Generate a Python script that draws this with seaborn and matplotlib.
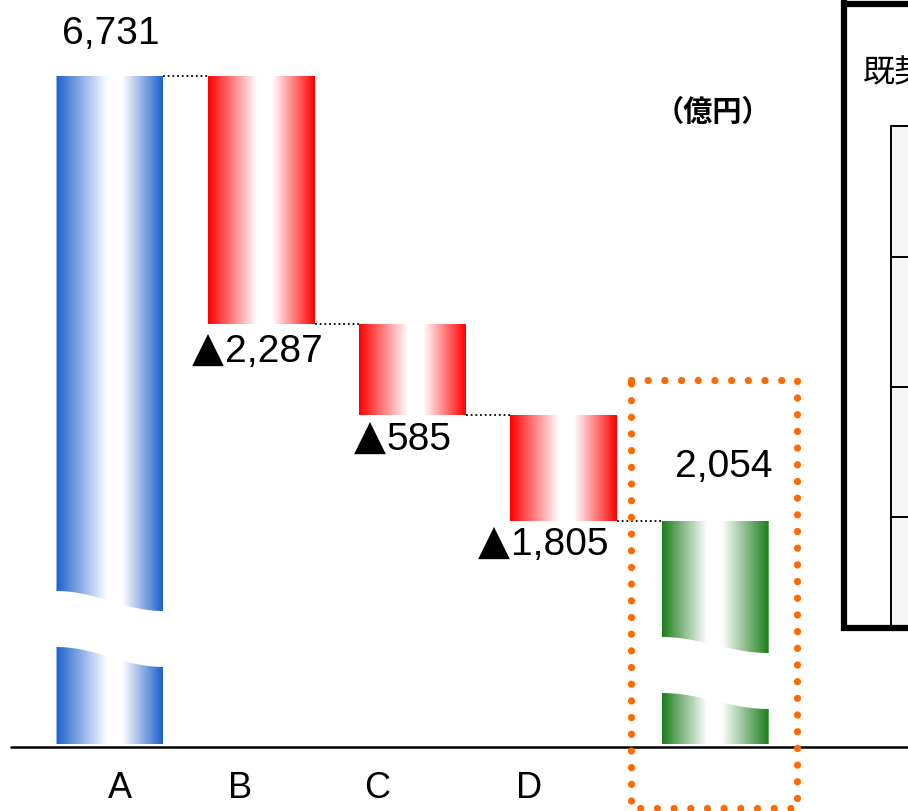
import numpy as np
import pandas as pd
import seaborn as sns
import matplotlib
matplotlib.use("Agg")
import matplotlib.pyplot as plt
from matplotlib.patches import Polygon, Rectangle
from matplotlib.colors import LinearSegmentedColormap

# waterfall data (億円)
categories = ["A", "B", "C", "D", ""]
values = [6731, -2287, -585, -1805, 2054]
value_labels = ["6,731", "2,287", "585", "1,805", "2,054"]
# drawn levels of the schematic (not to scale, axis is broken)
level_top = [668, 668, 420, 329, 223]
level_bottom = [0, 420, 329, 223, 0]
# broken bars: (upper piece bottom left/right, lower piece top left/right)
breaks = {0: (153, 133, 97, 77), 4: (107, 91, 51, 35)}

df = pd.DataFrame({"cat": categories, "value": values, "label": value_labels,
                   "top": level_top, "bottom": level_bottom})

sns.set_theme(style="white", rc={"text.color": "black"})
plt.rcParams["font.family"] = ["Liberation Sans", "Noto Sans CJK JP", "DejaVu Sans"]

W, H = 908, 812
fig = plt.figure(figsize=(W / 100, H / 100), dpi=100)
ax = fig.add_axes([0, 0, 1, 1])
ax.set_axis_off()

x0px, step = 110, 151.3
ax.set_xlim(-x0px / step, (W - x0px) / step)
ax.set_ylim(-67, 745)

blue, red, green = "#1C60CC", "#FF0000", "#1B7D1B"
cmaps = {
    "blue": LinearSegmentedColormap.from_list("b", [(0, blue), (0.48, "white"), (0.62, "white"), (1, blue)]),
    "red": LinearSegmentedColormap.from_list("r", [(0, red), (0.46, "white"), (0.6, "white"), (1, red)]),
    "green": LinearSegmentedColormap.from_list("g", [(0, green), (0.42, "white"), (0.56, "white"), (1, green)]),
}
bar_cmap = ["blue", "red", "red", "red", "green"]
bw = 107 / step


def wave(xa, xb, yl, yr, n=60):
    t = np.linspace(0, 1, n)
    return xa + t * (xb - xa), yl + (yr - yl) * (1 - np.cos(np.pi * t)) / 2


def grad_piece(verts, xa, xb, cmap):
    poly = Polygon(verts, closed=True, facecolor="none", edgecolor="none")
    ax.add_patch(poly)
    ys = [v[1] for v in verts]
    im = ax.imshow(np.linspace(0, 1, 256).reshape(1, -1), cmap=cmap,
                   extent=[xa, xb, min(ys), max(ys)], aspect="auto",
                   origin="lower", interpolation="bicubic")
    im.set_clip_path(poly)


for i, row in df.iterrows():
    xa, xb = i - bw / 2, i + bw / 2
    cm = cmaps[bar_cmap[i]]
    if i in breaks:
        ub_l, ub_r, lt_l, lt_r = breaks[i]
        wx, wy = wave(xa, xb, ub_l, ub_r)
        upper = [(xa, row["top"]), (xb, row["top"])] + list(zip(wx[::-1], wy[::-1]))
        grad_piece(upper, xa, xb, cm)
        wx, wy = wave(xa, xb, lt_l, lt_r)
        lower = list(zip(wx, wy)) + [(xb, row["bottom"]), (xa, row["bottom"])]
        grad_piece(lower, xa, xb, cm)
    else:
        verts = [(xa, row["bottom"]), (xb, row["bottom"]), (xb, row["top"]), (xa, row["top"])]
        grad_piece(verts, xa, xb, cm)

# connectors
for i in range(len(df) - 1):
    lvl = df["top"][0] if i == 0 else df["bottom"][i]
    ax.plot([i + bw / 2, i + 1 - bw / 2], [lvl, lvl], color="black", lw=1.3,
            linestyle=(0, (1, 1.6)))

# value labels
lab_dx = [0.003, -0.24, -0.17, -0.35, 0.055]
lab_dy = [33, -37, -34, -33, 45]
for i, row in df.iterrows():
    if row["value"] < 0:
        y = row["bottom"] + lab_dy[i]
        ax.text(i + lab_dx[i], y, row["label"], ha="left", va="baseline", fontsize=28)
        ax.text(i + lab_dx[i] - 0.005, y, "▲", ha="right", va="baseline", fontsize=30,
                family=["DejaVu Sans"])
    else:
        y = row["top"] + lab_dy[i]
        ax.text(i + lab_dx[i], y, row["label"], ha="center", va="baseline", fontsize=28)

# category labels
cat_dx = [0.066, -0.14, -0.235, -0.23, 0]
for i, c in enumerate(categories):
    if c:
        ax.text(i + cat_dx[i], -44, c, ha="center", va="center", fontsize=26)

# baseline
ax.plot([(10 - x0px) / step, (W - x0px) / step], [-3, -3], color="black", lw=1.8,
        solid_capstyle="butt")

# orange dotted frame around the last bar
rx0, rx1, ry0, ry1 = 4 - 0.557, 4 + 0.54, -64, 364
ax.plot([rx0, rx1, rx1, rx0, rx0], [ry1, ry1, ry0, ry0, ry1], color="#FF6A00", lw=5.2,
        linestyle=(0, (0.01, 2.3)), dash_capstyle="round", clip_on=False)

# unit label
ax.text((713 - x0px) / step, 745 - 112, "（億円）", ha="center", va="center",
        fontsize=21, fontweight="bold", family=["Noto Sans CJK JP"])


# partial table on the right edge (pixel-based helpers)
def fx(px):
    return px / W


def fy(py):
    return 1 - py / H


T = ax.transAxes
ax.add_patch(Rectangle((fx(891), fy(630)), fx(908) - fx(891), fy(127) - fy(630),
                       transform=T, facecolor="#F6F6F6", edgecolor="none", clip_on=False))
for py in [127, 258, 388, 518]:
    ax.plot([fx(891), 1], [fy(py), fy(py)], transform=T, color="black", lw=1.4, clip_on=False)
ax.plot([fx(891), fx(891)], [fy(127), fy(630)], transform=T, color="black", lw=1.4, clip_on=False)
ax.plot([fx(844), fx(844)], [fy(0), fy(632)], transform=T, color="black", lw=4.5,
        solid_capstyle="butt", clip_on=False)
ax.plot([fx(841), 1], [fy(5), fy(5)], transform=T, color="black", lw=4.5,
        solid_capstyle="butt", clip_on=False)
ax.plot([fx(841), 1], [fy(629), fy(629)], transform=T, color="black", lw=4.5,
        solid_capstyle="butt", clip_on=False)
ax.text(fx(863), fy(73), "既契約", transform=T, ha="left", va="center", fontsize=23,
        family=["Noto Sans CJK JP"])

fig.savefig("out.png", dpi=100)
